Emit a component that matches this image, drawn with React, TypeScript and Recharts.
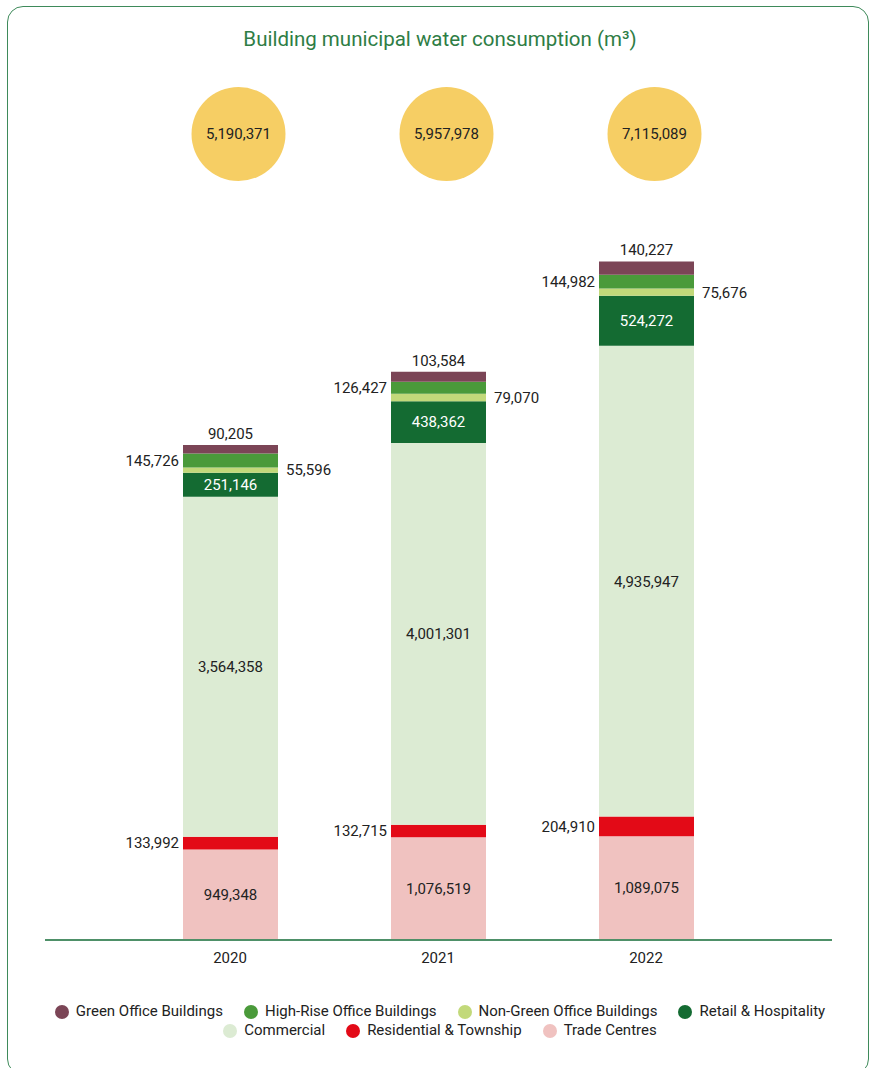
import React from 'react';
import { BarChart, Bar, XAxis, YAxis, LabelList } from 'recharts';

// values, m³
const years = ['2020', '2021', '2022'];
const totals = [5190371, 5957978, 7115089];
const tradeCentres = [949348, 1076519, 1089075];
const residential = [133992, 132715, 204910];
const commercial = [3564358, 4001301, 4935947];
const retail = [251146, 438362, 524272];
const nonGreenOffice = [55596, 79070, 75676];
const highRiseOffice = [145726, 126427, 144982];
const greenOffice = [90205, 103584, 140227];

// stacked from bottom to top
const SERIES = [
  { key: 'trade', name: 'Trade Centres', color: '#F0C2C0', values: tradeCentres, label: 'inside', labelColor: '#222' },
  { key: 'residential', name: 'Residential & Township', color: '#E30A17', values: residential, label: 'left', labelColor: '#222' },
  { key: 'commercial', name: 'Commercial', color: '#DCEBD3', values: commercial, label: 'inside', labelColor: '#222' },
  { key: 'retail', name: 'Retail & Hospitality', color: '#146B32', values: retail, label: 'inside', labelColor: '#fff' },
  { key: 'nonGreen', name: 'Non-Green Office Buildings', color: '#C2D97A', values: nonGreenOffice, label: 'right', labelColor: '#222' },
  { key: 'highRise', name: 'High-Rise Office Buildings', color: '#4A9A3A', values: highRiseOffice, label: 'left', labelColor: '#222' },
  { key: 'green', name: 'Green Office Buildings', color: '#7B4556', values: greenOffice, label: 'top', labelColor: '#222' },
];

// legend order as printed
const LEGEND_ORDER = ['green', 'highRise', 'nonGreen', 'retail', 'commercial', 'residential', 'trade'];

const data = years.map((year, i) => {
  const row: Record<string, any> = { year, total: totals[i] };
  SERIES.forEach((s) => {
    row[s.key] = s.values[i];
  });
  return row;
});

const FONT = 'Roboto, "Noto Sans", sans-serif';
const CIRCLE_Y = 134;
const fmt = (v: any) => Number(v).toLocaleString('en-US');

// yellow total bubbles above each column
const TotalBubble = (props: any) => {
  const { x, width, value } = props;
  const cx = x + width / 2 + 8;
  return (
    <g>
      <circle cx={cx} cy={CIRCLE_Y} r={47} fill="#F6CE64" />
      <text
        x={cx}
        y={CIRCLE_Y}
        textAnchor="middle"
        dominantBaseline="central"
        fontSize={15}
        fontFamily={FONT}
        fill="#222"
      >
        {fmt(value)}
      </text>
    </g>
  );
};

export default function App() {
  const legendItems = LEGEND_ORDER.map((k) => SERIES.find((s) => s.key === k)!);

  return (
    <div style={{ position: 'absolute', left: 0, top: 0, width: 873, height: 1068, overflow: 'hidden', background: '#fff', fontFamily: FONT }}>
      <div
        style={{
          position: 'absolute',
          left: 7,
          top: 6,
          width: 862,
          height: 1069,
          boxSizing: 'border-box',
          border: '1.5px solid #3E8A5A',
          borderRadius: 16,
        }}
      />
      <div
        style={{
          position: 'absolute',
          top: 27,
          left: 0,
          width: 880,
          textAlign: 'center',
          color: '#2E7D45',
          fontSize: 20.5,
        }}
      >
        Building municipal water consumption (m³)
      </div>

      <div style={{ position: 'absolute', left: 0, top: 0 }}>
        <BarChart
          width={873}
          height={990}
          data={data}
          margin={{ top: 177, right: 41, left: 45, bottom: 10 }}
          barSize={95}
        >
          <XAxis
            dataKey="year"
            height={40}
            padding={{ left: 81, right: 82 }}
            axisLine={{ stroke: '#4E9068', strokeWidth: 2 }}
            tickLine={false}
            tickMargin={6}
            tick={{ fontSize: 15, fill: '#222', fontFamily: FONT }}
          />
          <YAxis hide domain={[0, 8000000]} />
          {SERIES.map((s) => (
            <Bar
              key={s.key}
              dataKey={s.key}
              name={s.name}
              stackId="a"
              fill={s.color}
              isAnimationActive={false}
            >
              <LabelList
                dataKey={s.key}
                position={s.label as any}
                offset={s.label === 'right' ? 8 : s.label === 'top' ? 6 : 4}
                formatter={fmt}
                fill={s.labelColor}
                fontSize={15}
                fontFamily={FONT}
              />
              {s.key === 'green' && <LabelList dataKey="total" content={TotalBubble} />}
            </Bar>
          ))}
        </BarChart>
      </div>

      <div
        style={{
          position: 'absolute',
          top: 1003,
          left: 10,
          width: 860,
          display: 'flex',
          flexWrap: 'wrap',
          justifyContent: 'center',
          rowGap: 2,
          columnGap: 21,
          fontSize: 15,
          color: '#222',
          lineHeight: '17px',
        }}
      >
        {legendItems.map((s) => (
          <div key={s.key} style={{ display: 'flex', alignItems: 'center' }}>
            <span
              style={{
                display: 'inline-block',
                width: 14,
                height: 14,
                borderRadius: '50%',
                background: s.color,
                marginRight: 7,
              }}
            />
            {s.name}
          </div>
        ))}
      </div>
    </div>
  );
}
